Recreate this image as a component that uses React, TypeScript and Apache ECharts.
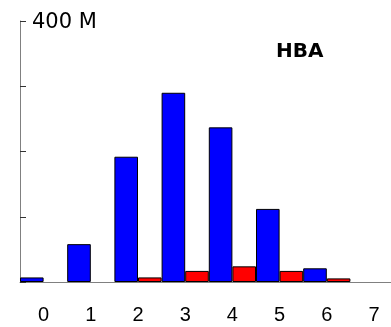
import React, { useEffect, useRef } from "react";
import * as echarts from "echarts";

const categories = ["0", "1", "2", "3", "4", "5", "6", "7"];
// values in millions
const blueValues = [7, 58, 192, 290, 237, 112, 21, null];
const redValues = [null, null, 7, 17, 24, 17, 5.5, null];
const yTickLabel = "400 M";
const yMax = 400;
const titleText = "HBA";

export default function App() {
  const ref = useRef<HTMLDivElement>(null);
  useEffect(() => {
    if (!ref.current) return;
    const chart = echarts.init(ref.current, undefined, { renderer: "svg" });
    chart.setOption({
      animation: false,
      title: {
        text: titleText,
        left: 271,
        top: 35,
        textStyle: {
          fontFamily: "DejaVu Sans",
          fontWeight: "bold",
          fontSize: 20,
          color: "#000",
        },
      },
      grid: {
        left: 20,
        top: 21,
        bottom: 45,
        width: 377.6,
        containLabel: false,
        outerBoundsMode: "none",
      },
      xAxis: {
        type: "category",
        data: categories,
        boundaryGap: true,
        axisLine: { lineStyle: { color: "#808080", width: 1 } },
        axisTick: { length: 7, lineStyle: { color: "#333" } },
        axisLabel: {
          margin: 22,
          fontFamily: "Liberation Sans",
          fontSize: 20,
          color: "#000",
        },
        splitLine: { show: false },
      },
      yAxis: {
        type: "value",
        min: 0,
        max: yMax,
        interval: 100,
        axisLine: { show: true, lineStyle: { color: "#808080", width: 1 } },
        axisTick: { show: true, inside: true, length: 6, lineStyle: { color: "#333" } },
        axisLabel: {
          inside: true,
          margin: 12,
          fontFamily: "DejaVu Sans",
          fontSize: 21,
          color: "#000",
          formatter: (v: number) => (v === yMax ? yTickLabel : ""),
        },
        splitLine: { show: false },
      },
      series: [
        {
          type: "bar",
          data: blueValues,
          barGap: "0%",
          barCategoryGap: "0%",
          itemStyle: { color: "#0000ff", borderColor: "#000", borderWidth: 1 },
        },
        {
          type: "bar",
          data: redValues,
          barGap: "0%",
          barCategoryGap: "0%",
          itemStyle: { color: "#ff0000", borderColor: "#000", borderWidth: 1 },
        },
      ],
    });
    return () => chart.dispose();
  }, []);
  return (
    <div
      ref={ref}
      style={{ position: "fixed", left: 0, top: 0, width: 391, height: 327, overflow: "hidden" }}
    />
  );
}
